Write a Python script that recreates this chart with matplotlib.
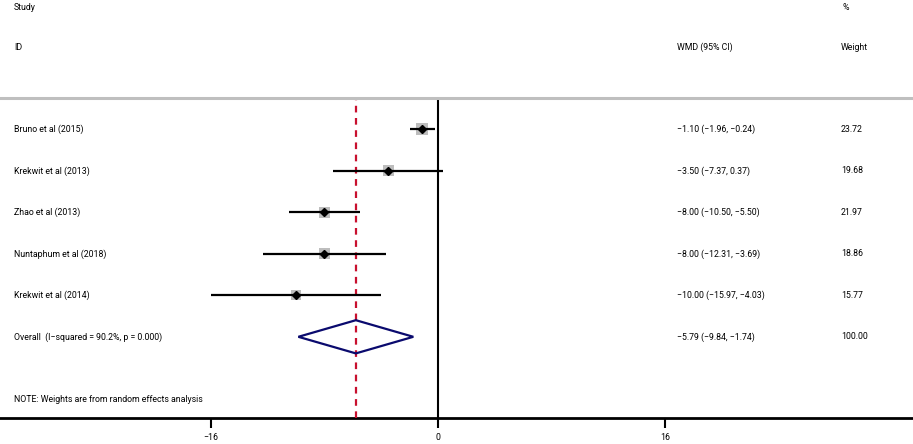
import numpy as np
import matplotlib
matplotlib.use("Agg")
import matplotlib.pyplot as plt
from matplotlib.patches import Polygon
import matplotlib.transforms as mtransforms

plt.rcParams['font.family'] = ['Roboto', 'DejaVu Sans']

# data
studies = ["Bruno et al (2015)", "Krekwit et al (2013)", "Zhao et al (2013)",
           "Nuntaphum et al (2018)", "Krekwit et al (2014)"]
wmd = [-1.10, -3.50, -8.00, -8.00, -10.00]
ci_lo = [-1.96, -7.37, -10.50, -12.31, -15.97]
ci_hi = [-0.24, 0.37, -5.50, -3.69, -4.03]
weights = [23.72, 19.68, 21.97, 18.86, 15.77]
overall = [-5.79, -9.84, -1.74]
overall_label = "Overall  (I\u2212squared = 90.2%, p = 0.000)"
xticks = [-16, 0, 16]

W, H = 913, 444
fig = plt.figure(figsize=(W / 100, H / 100), dpi=100)
# axes from the grey header rule (y=98px) down to the x axis (y=418px)
ax = fig.add_axes([0, (H - 418) / H, 1, (418 - 98) / H])

px = 14.19  # pixels per unit
ax.set_xlim(-438 / px, (W - 438) / px)
ax.set_ylim((418 - 129.3) / 41.5, (98 - 129.3) / 41.5)

for s in ['top', 'right', 'left']:
    ax.spines[s].set_visible(False)
ax.spines['bottom'].set_linewidth(2)
ax.set_yticks([])
ax.set_xticks(xticks)
ax.set_xticklabels([("\u2212%d" % -t) if t < 0 else str(t) for t in xticks])
ax.tick_params(axis='x', length=7, width=1.5, labelsize=6.3, pad=4)

fs = 6.3
tr = mtransforms.blended_transform_factory(ax.transAxes, ax.transData)

def fmt(v):
    s = "%.2f" % abs(v)
    return ("\u2212" + s) if v < 0 else s

# reference lines
ax.axvline(0, color='black', lw=1.5)
ax.axvline(overall[0], color='#c8102e', lw=1.6, ls=(0, (3, 2.5)), zorder=3)

rows = np.arange(len(studies))
ax.hlines(rows, ci_lo, ci_hi, color='black', lw=1.6, zorder=4)
ax.scatter(wmd, rows, marker='s', s=np.array(weights) * 3.1, color='#bdbdbd', zorder=3, lw=0)
ax.plot(wmd, rows, 'D', color='black', ms=4.5, zorder=5)

for i, name in enumerate(studies):
    ax.text(14 / W, i, name, transform=tr, fontsize=fs, va='center', clip_on=False)
    ax.text(677 / W, i, "%s (%s, %s)" % (fmt(wmd[i]), fmt(ci_lo[i]), fmt(ci_hi[i])),
            transform=tr, fontsize=fs, va='center')
    ax.text(841 / W, i, "%.2f" % weights[i], transform=tr, fontsize=fs, va='center')

# overall diamond
yo = len(studies)
d = Polygon([[overall[1], yo], [overall[0], yo - 0.4], [overall[2], yo],
             [overall[0], yo + 0.4]], closed=True, fill=False,
            edgecolor='#0a0a6e', lw=1.6, zorder=6)
ax.add_patch(d)
ax.text(14 / W, yo, overall_label, transform=tr, fontsize=fs, va='center')
ax.text(677 / W, yo, "%s (%s, %s)" % (fmt(overall[0]), fmt(overall[1]), fmt(overall[2])),
        transform=tr, fontsize=fs, va='center')
ax.text(841 / W, yo, "100.00", transform=tr, fontsize=fs, va='center')

ax.text(14 / W, 6.5, "NOTE: Weights are from random effects analysis", transform=tr,
        fontsize=fs, va='center')

# headers
fig.text(14 / W, 1 - 7 / H, "Study", fontsize=fs, va='center')
fig.text(14 / W, 1 - 47 / H, "ID", fontsize=fs, va='center')
fig.text(677 / W, 1 - 47 / H, "WMD (95% CI)", fontsize=fs, va='center')
fig.text(842 / W, 1 - 7 / H, "%", fontsize=fs, va='center')
fig.text(841 / W, 1 - 47 / H, "Weight", fontsize=fs, va='center')
fig.add_artist(plt.Line2D([0, 1], [1 - 98 / H, 1 - 98 / H], transform=fig.transFigure,
                          color='#bfbfbf', lw=2.2))

fig.savefig("out.png", dpi=100)
